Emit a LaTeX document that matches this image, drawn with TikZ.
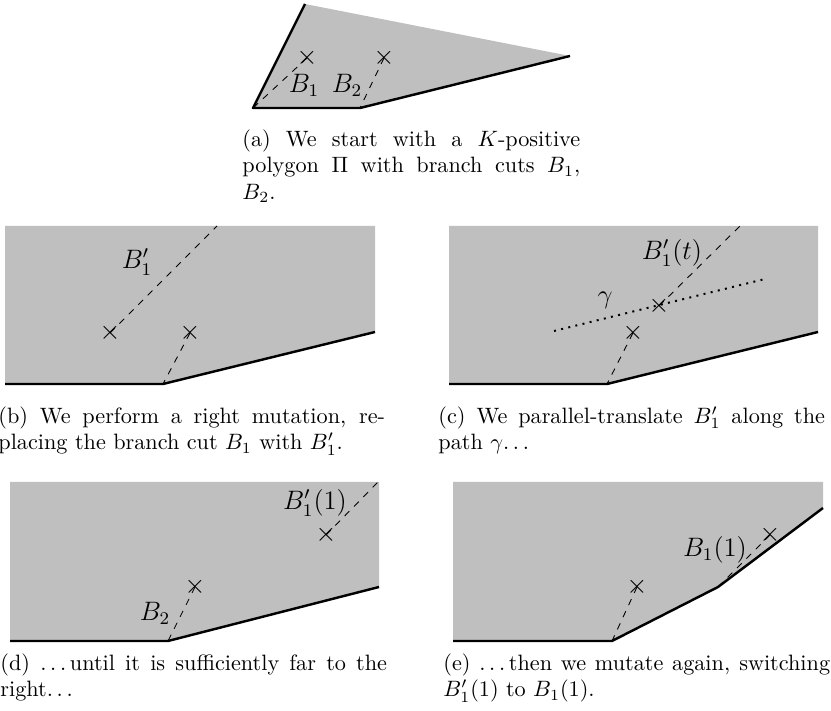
\documentclass[tikz,border=0pt]{standalone}
\usepackage{amsmath}
\usepackage{amssymb}
\usepackage{tikz}
\usepackage{xcolor}
\newcommand{\sdots}{.\kern1.67pt.\kern1.67pt.\kern1.67pt}

\begin{document}
\begin{tikzpicture}[x=0.45pt, y=0.45pt,
  region/.style={fill=lightgray},
  rim/.style={line width=1.1pt, line join=round},
  cutline/.style={dashed},
  gammaline/.style={line width=0.9pt, dash pattern=on 0.9pt off 2.4pt},
  branchpt/.style={inner sep=0pt, font=\large},
  lbl/.style={inner sep=0pt, font=\large},
  capt/.style={anchor=north west, inner sep=0pt, align=justify, text width=174pt}]
\useasboundingbox (0,0) rectangle (831,711);

% (a) the starting polygon
\coordinate (aBL) at (253,603);
\coordinate (aTop) at (305,707);
\coordinate (aR) at (570,655);
\coordinate (aBR) at (360,603);
\fill[region] (aBL) -- (aTop) -- (aR) -- (aBR) -- cycle;
\draw[rim] (aR) -- (aBR) -- (aBL) -- (aTop);
\node[branchpt] (a1) at (307,653) {$\times$};
\node[branchpt] (a2) at (384,653) {$\times$};
\draw[cutline] (a1.center) -- (aBL);
\draw[cutline] (a2.center) -- (aBR);
\node[lbl] (aB1) at (304,626) {$B_1$};
\node[lbl] (aB2) at (347,626) {$B_2$};
\node[capt, text width=152pt] (capA) at (242,582) {(a) We start with a $K$-positive\linebreak polygon $\Pi$ with branch cuts $B_1$,\linebreak $B_2$.};

% (b) right mutation
\coordinate (bL) at (5,327);
\coordinate (bK) at (163,327);
\coordinate (bR) at (375,379);
\coordinate (bT) at (217,485);
\fill[region] (5,485) -- (375,485) -- (bR) -- (bK) -- (bL) -- cycle;
\draw[rim] (bL) -- (bK) -- (bR);
\node[branchpt] (b1) at (110,378) {$\times$};
\node[branchpt] (b2) at (190,378) {$\times$};
\draw[cutline] (b1.center) -- (bT);
\draw[cutline] (b2.center) -- (bK);
\node[lbl] (bB1) at (137,449) {$B_1'$};
\node[capt] (capB) at (-2,305) {(b) We perform a right mutation, re-\linebreak placing the branch cut $B_1$ with $B_1'$.};

% (c) moving along gamma
\coordinate (cL) at (449,327);
\coordinate (cK) at (607,327);
\coordinate (cR) at (818,379);
\coordinate (cT) at (740,485);
\coordinate (gStart) at (554,380);
\coordinate (gEnd) at (765,432);
\fill[region] (449,485) -- (818,485) -- (cR) -- (cK) -- (cL) -- cycle;
\draw[rim] (cL) -- (cK) -- (cR);
\draw[gammaline] (gStart) -- (gEnd);
\node[branchpt] (c1) at (633,378) {$\times$};
\node[branchpt] (c2) at (659,405) {$\times$};
\draw[cutline] (c1.center) -- (cK);
\draw[cutline] (c2.center) -- (cT);
\node[lbl] (cGamma) at (605,411) {$\gamma$};
\node[lbl] (cB1) at (672,458) {$B_1'(t)$};
\node[capt] (capC) at (438,305) {(c) We parallel-translate $B_1'$ along the\linebreak path $\gamma$\sdots};

% (d) far enough to the right
\coordinate (dL) at (10,70);
\coordinate (dK) at (168,70);
\coordinate (dR) at (379,124);
\coordinate (dT) at (378,229);
\fill[region] (10,229) -- (379,229) -- (dR) -- (dK) -- (dL) -- cycle;
\draw[rim] (dL) -- (dK) -- (dR);
\node[branchpt] (d1) at (195,124) {$\times$};
\node[branchpt] (d2) at (326,176) {$\times$};
\draw[cutline] (d1.center) -- (dK);
\draw[cutline] (d2.center) -- (dT);
\node[lbl] (dB2) at (155,98) {$B_2$};
\node[lbl] (dB1) at (315,208) {$B_1'(1)$};
\node[capt] (capD) at (0,58) {(d) \sdots until it is sufficiently far to the\linebreak right\sdots};

% (e) second mutation
\coordinate (eL) at (453,70);
\coordinate (eK) at (612,70);
\coordinate (eM) at (718,124);
\coordinate (eR) at (823,203);
\fill[region] (453,229) -- (823,229) -- (eR) -- (eM) -- (eK) -- (eL) -- cycle;
\draw[rim] (eL) -- (eK) -- (eM) -- (eR);
\node[branchpt] (e1) at (637,124) {$\times$};
\node[branchpt] (e2) at (770,176) {$\times$};
\draw[cutline] (e1.center) -- (eK);
\draw[cutline] (e2.center) -- (eM);
\node[lbl] (eB1) at (715,161) {$B_1(1)$};
\node[capt] (capE) at (443,58) {(e) \sdots then we mutate again, switching\linebreak $B_1'(1)$ to $B_1(1)$.};

\end{tikzpicture}
\end{document}
